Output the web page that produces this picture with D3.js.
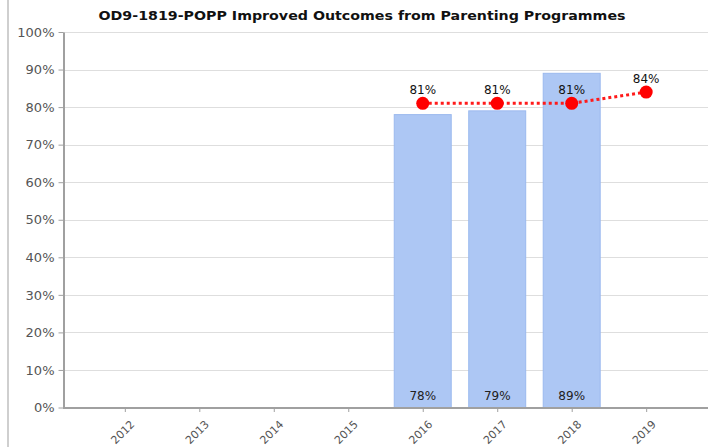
<!DOCTYPE html>
<html><head><meta charset="utf-8">
<script src="https://cdn.jsdelivr.net/npm/d3@7"></script>
<style>body{margin:0;background:#fff}svg{display:block}</style>
</head><body>
<svg id="c" width="715" height="447"></svg>
<script>
const categories = ["2012","2013","2014","2015","2016","2017","2018","2019"];
const barValues = [null,null,null,null,78,79,89,null];
const lineValues = [null,null,null,null,81,81,81,84];
const yTicks = [0,10,20,30,40,50,60,70,80,90,100];
const title = "OD9-1819-POPP Improved Outcomes from Parenting Programmes";

const svg = d3.select("#c");
const font = "Tahoma, 'DejaVu Sans', Verdana, sans-serif";
const L = 63, R = 708, T = 32, B = 407.5;

svg.append("rect").attr("x",7).attr("y",0).attr("width",2).attr("height",447).attr("fill","#cfcfcf");

const x = d3.scalePoint().domain(categories).range([L,R]).padding(0.83);
const y = d3.scaleLinear().domain([0,100]).range([B,T]);
const bw = x.step()*0.765;

// grid
svg.append("g").selectAll("line").data(yTicks.filter(d=>d>0)).join("line")
  .attr("x1",L).attr("x2",R).attr("y1",d=>Math.round(y(d))+0.5).attr("y2",d=>Math.round(y(d))+0.5)
  .attr("stroke","#dedede").attr("stroke-width",1);

// bars
const bars = categories.map((c,i)=>({c,v:barValues[i]})).filter(d=>d.v!=null);
svg.append("g").selectAll("rect").data(bars).join("rect")
  .attr("x",d=>x(d.c)-bw/2).attr("y",d=>y(d.v)).attr("width",bw).attr("height",d=>B-y(d.v))
  .attr("fill","#adc7f4").attr("stroke","#9bb9ee").attr("stroke-width",1);
svg.append("g").selectAll("text").data(bars).join("text")
  .attr("x",d=>x(d.c)).attr("y",B-8).attr("text-anchor","middle")
  .attr("font-family",font).attr("font-size",12).attr("fill","#222").text(d=>d.v+"%");

// y axis
const ya = svg.append("g").attr("transform",`translate(${L+0.5},0)`)
  .call(d3.axisLeft(y).tickValues(yTicks).tickFormat(d=>d+"%").tickSize(5).tickSizeOuter(0));
ya.select(".domain").attr("stroke","#a0a0a0").attr("stroke-width",2);
ya.selectAll(".tick line").attr("stroke","#a0a0a0");
ya.selectAll(".tick text").attr("font-family",font).attr("font-size",13).attr("fill","#555").attr("x",-9);

// x axis
const xa = svg.append("g").attr("transform",`translate(0,${B+0.5})`)
  .call(d3.axisBottom(x).tickSize(4).tickSizeOuter(0));
xa.select(".domain").attr("stroke","#a0a0a0").attr("stroke-width",2).attr("d",`M${L},0H${R}`);
xa.selectAll(".tick line").attr("stroke","#a0a0a0");
xa.selectAll(".tick text").attr("font-family",font).attr("font-size",11).attr("fill","#555")
  .attr("text-anchor","end").attr("x",0).attr("y",0).attr("dy",0)
  .attr("transform","translate(10,17) rotate(-45)");

// line
const pts = categories.map((c,i)=>({c,v:lineValues[i]})).filter(d=>d.v!=null);
svg.append("path").datum(pts)
  .attr("d",d3.line().x(d=>x(d.c)).y(d=>y(d.v)))
  .attr("fill","none").attr("stroke","#ff1a1a").attr("stroke-width",3).attr("stroke-dasharray","3,3");
svg.append("g").selectAll("circle").data(pts).join("circle")
  .attr("cx",d=>x(d.c)).attr("cy",d=>y(d.v)).attr("r",6.5).attr("fill","#ff0000");
svg.append("g").selectAll("text").data(pts).join("text")
  .attr("x",d=>x(d.c)).attr("y",d=>y(d.v)-9).attr("text-anchor","middle")
  .attr("font-family",font).attr("font-size",12).attr("fill","#111").text(d=>d.v+"%");

// title
svg.append("text").attr("x",362).attr("y",20).attr("text-anchor","middle")
  .attr("font-family",font).attr("font-weight","bold").attr("font-size",13).attr("fill","#111")
  .attr("textLength",527).attr("lengthAdjust","spacingAndGlyphs").text(title);
</script>
</body></html>
